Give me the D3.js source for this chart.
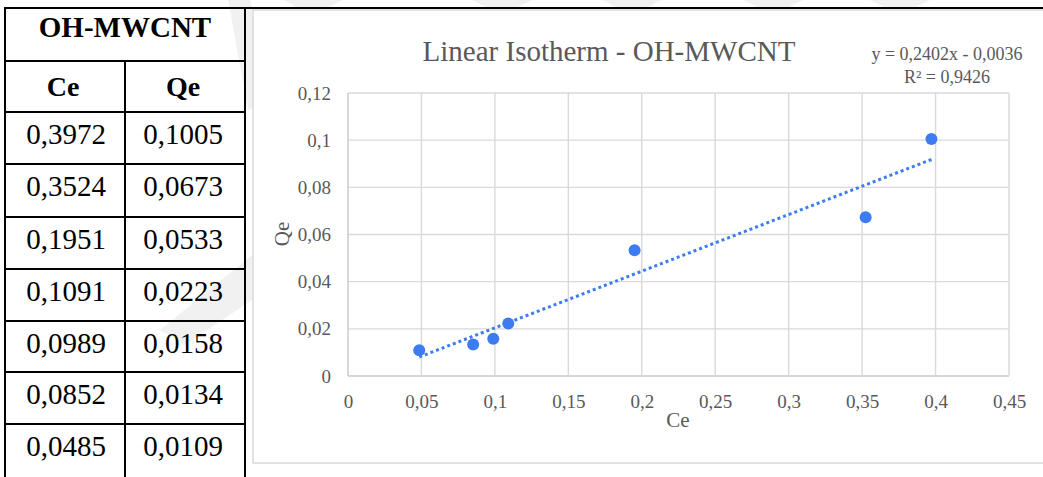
<!DOCTYPE html>
<html>
<head>
<meta charset="utf-8">
<script src="https://cdn.jsdelivr.net/npm/d3@7"></script>
<style>
  html, body { margin: 0; padding: 0; background: #ffffff; }
  svg { display: block; }
  text { font-family: "Liberation Serif", "Times New Roman", serif; }
</style>
</head>
<body>
<svg id="chart" width="1043" height="477"></svg>
<script>
// ---------------- data ----------------
const tableTitle = "OH-MWCNT";
const columnHeaders = ["Ce", "Qe"];
const ceValues = [0.3972, 0.3524, 0.1951, 0.1091, 0.0989, 0.0852, 0.0485];
const qeValues = [0.1005, 0.0673, 0.0533, 0.0223, 0.0158, 0.0134, 0.0109];
const xTicks = [0, 0.05, 0.1, 0.15, 0.2, 0.25, 0.3, 0.35, 0.4, 0.45];
const yTicks = [0, 0.02, 0.04, 0.06, 0.08, 0.1, 0.12];
const chartTitle = "Linear Isotherm - OH-MWCNT";
const xTitle = "Ce";
const yTitle = "Qe";
const trendSlope = 0.2402;
const trendIntercept = -0.0036;
const trendR2 = 0.9426;

// ---------------- helpers ----------------
const loc = d3.formatLocale({decimal: ",", thousands: ".", grouping: [3], currency: ["", ""]});
const f4 = loc.format(".4f");
const fTick = loc.format("~g");

const svg = d3.select("#chart");
const W = 1043, H = 477;
svg.append("rect").attr("width", W).attr("height", H).attr("fill", "#ffffff");

// ---------------- faint watermark ----------------
const wm = svg.append("g").attr("fill", "#000").attr("fill-opacity", 0.055);
[313, 502, 632, 773, 900].forEach(cx => {
  wm.append("path").attr("d", `M${cx-30},0 L${cx+30},0 L${cx+12},9 L${cx-12},9 Z`);
});
wm.append("path").attr("d", "M228,0 L250,0 L262,40 L262,105 L248,110 Z");
wm.append("path").attr("d", "M160,330 L252,255 L252,300 L185,345 Z");

// ---------------- table ----------------
const tableG = svg.append("g");
const colX = [5, 125, 245];
const rowY = [8, 61, 112, 164, 217, 269, 321, 372, 424];
const tableBottom = 480;

rowY.forEach((y, i) => {
  tableG.append("line")
    .attr("x1", colX[0] - 1).attr("x2", i === 0 ? W : colX[2] + 1)
    .attr("y1", y).attr("y2", y)
    .attr("stroke", "#000").attr("stroke-width", 2);
});
tableG.append("line").attr("x1", colX[0]).attr("x2", colX[0]).attr("y1", rowY[0]).attr("y2", tableBottom).attr("stroke", "#000").attr("stroke-width", 2);
tableG.append("line").attr("x1", colX[2]).attr("x2", colX[2]).attr("y1", rowY[0]).attr("y2", tableBottom).attr("stroke", "#000").attr("stroke-width", 2);
tableG.append("line").attr("x1", colX[1]).attr("x2", colX[1]).attr("y1", rowY[1]).attr("y2", tableBottom).attr("stroke", "#000").attr("stroke-width", 2);

tableG.append("text").attr("x", (colX[0] + colX[2]) / 2).attr("y", rowY[0] + 29)
  .attr("text-anchor", "middle").attr("font-weight", "bold").attr("font-size", 29)
  .attr("fill", "#000").text(tableTitle);

columnHeaders.forEach((h, i) => {
  tableG.append("text").attr("x", (colX[i] + colX[i + 1]) / 2 - 2).attr("y", rowY[1] + 35)
    .attr("text-anchor", "middle").attr("font-weight", "bold").attr("font-size", 28)
    .attr("fill", "#000").text(h);
});

ceValues.forEach((v, i) => {
  const top = rowY[i + 2];
  tableG.append("text").attr("x", (colX[0] + colX[1]) / 2 + 1).attr("y", top + 32)
    .attr("text-anchor", "middle").attr("font-size", 29).attr("fill", "#000").text(f4(v));
  tableG.append("text").attr("x", (colX[1] + colX[2]) / 2 - 2).attr("y", top + 32)
    .attr("text-anchor", "middle").attr("font-size", 29).attr("fill", "#000").text(f4(qeValues[i]));
});

// ---------------- chart box ----------------
const box = {x: 253, y: 10, w: 800, h: 453};
svg.append("rect").attr("x", box.x).attr("y", box.y).attr("width", box.w).attr("height", box.h)
  .attr("fill", "#ffffff").attr("stroke", "#d9d9d9").attr("stroke-width", 1.5);
svg.append("line").attr("x1", colX[2]).attr("x2", W).attr("y1", rowY[0]).attr("y2", rowY[0])
  .attr("stroke", "#000").attr("stroke-width", 2);

const plot = {left: 348, right: 1009, top: 93, bottom: 376};
const x = d3.scaleLinear().domain([0, 0.45]).range([plot.left, plot.right]);
const y = d3.scaleLinear().domain([0, 0.12]).range([plot.bottom, plot.top]);

const grid = svg.append("g");
grid.selectAll("line.h").data(yTicks).join("line").attr("class", "h")
  .attr("x1", plot.left).attr("x2", plot.right)
  .attr("y1", d => y(d)).attr("y2", d => y(d))
  .attr("stroke", d => d === 0 ? "#c8c8c8" : "#d9d9d9").attr("stroke-width", 1.4);
grid.selectAll("line.v").data(xTicks).join("line").attr("class", "v")
  .attr("x1", d => x(d)).attr("x2", d => x(d))
  .attr("y1", plot.top).attr("y2", plot.bottom)
  .attr("stroke", d => d === 0 ? "#c8c8c8" : "#d9d9d9").attr("stroke-width", 1.4);

const yAxis = d3.axisLeft(y).tickValues(yTicks).tickFormat(fTick).tickSize(0).tickPadding(0);
const yg = svg.append("g").attr("transform", `translate(${plot.left - 17},0)`).call(yAxis);
yg.select(".domain").remove();
yg.selectAll("text").attr("font-size", 19).attr("fill", "#595959")
  .attr("font-family", "Liberation Serif, serif");

const xAxis = d3.axisBottom(x).tickValues(xTicks).tickFormat(fTick).tickSize(0).tickPadding(0);
const xg = svg.append("g").attr("transform", `translate(0,${plot.bottom + 18})`).call(xAxis);
xg.select(".domain").remove();
xg.selectAll("text").attr("font-size", 19).attr("fill", "#595959")
  .attr("font-family", "Liberation Serif, serif");

svg.append("text").attr("x", 609).attr("y", 61).attr("text-anchor", "middle")
  .attr("font-size", 29).attr("fill", "#595959").text(chartTitle);
svg.append("text").attr("x", 678).attr("y", 427).attr("text-anchor", "middle")
  .attr("font-size", 21).attr("fill", "#595959").text(xTitle);
svg.append("text").attr("transform", "translate(289,234) rotate(-90)").attr("text-anchor", "middle")
  .attr("font-size", 21).attr("fill", "#595959").text(yTitle);

const eqSign = trendIntercept < 0 ? "-" : "+";
svg.append("text").attr("x", 947).attr("y", 60).attr("text-anchor", "middle")
  .attr("font-size", 18).attr("fill", "#595959")
  .text(`y = ${f4(trendSlope)}x ${eqSign} ${f4(Math.abs(trendIntercept))}`);
svg.append("text").attr("x", 947).attr("y", 83).attr("text-anchor", "middle")
  .attr("font-size", 18).attr("fill", "#595959")
  .text(`R² = ${f4(trendR2)}`);

const blue = "#3d7cf0";
const xMin = d3.min(ceValues), xMax = d3.max(ceValues);
svg.append("line")
  .attr("x1", x(xMin)).attr("y1", y(trendSlope * xMin + trendIntercept))
  .attr("x2", x(xMax)).attr("y2", y(trendSlope * xMax + trendIntercept))
  .attr("stroke", blue).attr("stroke-width", 3).attr("stroke-dasharray", "3,3");

svg.append("g").selectAll("circle").data(ceValues.map((c, i) => [c, qeValues[i]])).join("circle")
  .attr("cx", d => x(d[0])).attr("cy", d => y(d[1])).attr("r", 6)
  .attr("fill", blue);
</script>
</body>
</html>
